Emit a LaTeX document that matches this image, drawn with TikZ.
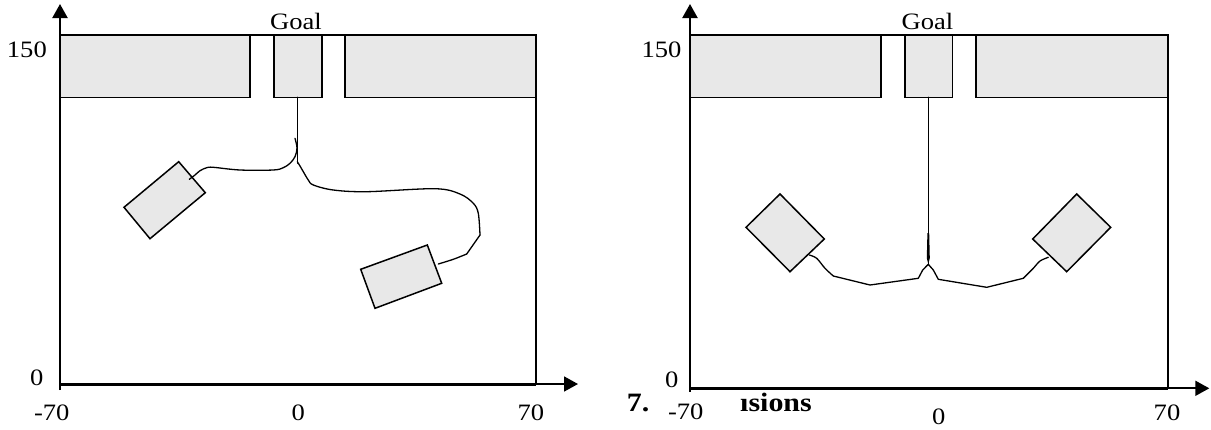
\documentclass[tikz,border=0pt]{standalone}
\usepackage{fontspec}
\setmainfont{Liberation Serif}
\newfontfamily\lblfont[FakeStretch=1.13]{Liberation Serif}
\usetikzlibrary{arrows.meta}
\definecolor{boxfill}{RGB}{232,232,232}
\begin{document}
\begin{tikzpicture}[x=1pt,y=-1pt,
  wall/.style={draw=black,line width=1.6pt,fill=boxfill},
  robot/.style={draw=black,line width=1.5pt,fill=boxfill,line join=miter},
  frameline/.style={draw=black,line width=1.6pt},
  baseaxis/.style={line width=3pt},
  axisarrow/.style={line width=1.7pt,-{Triangle[length=14pt,width=15pt]}},
  track/.style={line width=1.3pt,line join=round,line cap=round},
  lbl/.style={font=\lblfont\fontsize{23.5}{26}\selectfont,inner sep=0pt,anchor=base},
  bold/.style={font=\lblfont\bfseries\fontsize{26.5}{30}\selectfont,inner sep=0pt,anchor=base west}]
\useasboundingbox (0,0) rectangle (1211,429);

% ================= LEFT PANEL =================
\draw[frameline] (60,34.7) rectangle (536,384);
\draw[baseaxis] (60,384) -- (536,384);
\draw[axisarrow,line width=2.2pt] (60,390) -- (60,4);
\draw[axisarrow] (536,384) -- (578,384);
\draw[wall] (60,34.7) rectangle (250,97.3);
\draw[wall] (274,34.7) rectangle (321.7,97.3);
\draw[wall] (345,34.7) rectangle (536,97.3);

\node[lbl] (goalL) at (296,29.3) {Goal};
\node[lbl,anchor=base east] (y150L) at (47,57) {150};
\node[lbl] (y0L) at (36.7,385.5) {0};
\node[lbl] (xm70L) at (51.7,420.5) {-70};
\node[lbl] (x0L) at (298.3,420.5) {0};
\node[lbl] (x70L) at (530.8,420.5) {70};

% robots
\draw[robot] (178.7,161.7) -- (205.3,192.7) -- (150,238.7) -- (124,207.3) -- cycle;
\draw[robot] (360.7,269.3) -- (427.3,245) -- (441.7,283.3) -- (375,308.3) -- cycle;

% trajectories
\draw[track] (297.3,97.3) -- (297.3,163.3);
\draw[track] plot[smooth,tension=0.55] coordinates {(189.3,179.3) (195,175) (200,170.7) (206.7,167.7) (213.3,167.3) (240,170) (273.3,170) (283.3,167.7) (290,163.3) (295,156.7) (297,148) (295,138.3)};
\draw[track] plot[smooth,tension=0.55] coordinates {(297.3,161.7) (300,166) (303.3,171.7) (308.3,180) (313.3,185) (333.3,190) (366.7,191.7) (435,188.7) (460,194) (473.3,203.3) (478.3,213.3) (480,235)};
\draw[track] (480,235) -- (466.7,254);
\draw[track] plot[smooth,tension=0.55] coordinates {(466.7,254) (453.3,259.3) (438.3,264)};

% ================= RIGHT PANEL =================
\draw[frameline] (690,34.7) rectangle (1167.7,388.3);
\draw[baseaxis] (690,388.3) -- (1167.7,388.3);
\draw[axisarrow,line width=2.2pt] (690,391.7) -- (690,4);
\draw[axisarrow] (1167.7,388.3) -- (1209.3,388.3);
\draw[wall] (690,34.7) rectangle (881,97.3);
\draw[wall] (905,34.7) rectangle (952.3,97.3);
\draw[wall] (976,34.7) rectangle (1167.7,97.3);

\node[lbl] (goalR) at (927.5,29.3) {Goal};
\node[lbl,anchor=base east] (y150R) at (681.7,57) {150};
\node[lbl] (y0R) at (671.7,387) {0};
\node[lbl] (xm70R) at (685.8,419.5) {-70};
\node[lbl] (x0R) at (938.7,424.5) {0};
\node[lbl] (x70R) at (1167,420.5) {70};
\node[bold] (secnum) at (626.7,411.7) {7.};
\node[bold] (sectitle) at (740,411.7) {ısions};

% robots
\draw[robot] (780,194) -- (824.3,239) -- (790,271.7) -- (746,227.3) -- cycle;
\draw[robot] (1076.7,194) -- (1110.7,227.3) -- (1066.7,271.7) -- (1032.7,239) -- cycle;

% trajectories
\draw[track] (928.3,97.3) -- (928.3,264.3);
\fill (927.4,233) -- (929.2,233) -- (929.8,258) -- (928.3,264.3) -- (926.8,258) -- cycle;
\draw[track] plot[smooth,tension=0.5] coordinates {(809.3,255) (816.7,258.3) (825,268.3) (833.3,276)};
\draw[track] (833.3,276) -- (870,285) -- (918.3,278.3) -- (922.7,270) -- (928.3,264.3) -- (933.3,270) -- (938.3,279.3) -- (986.7,287.3) -- (1023.3,278.3);
\draw[track] plot[smooth,tension=0.5] coordinates {(1023.3,278.3) (1033.3,268.3) (1040,261) (1048.3,257.3)};
\end{tikzpicture}
\end{document}
